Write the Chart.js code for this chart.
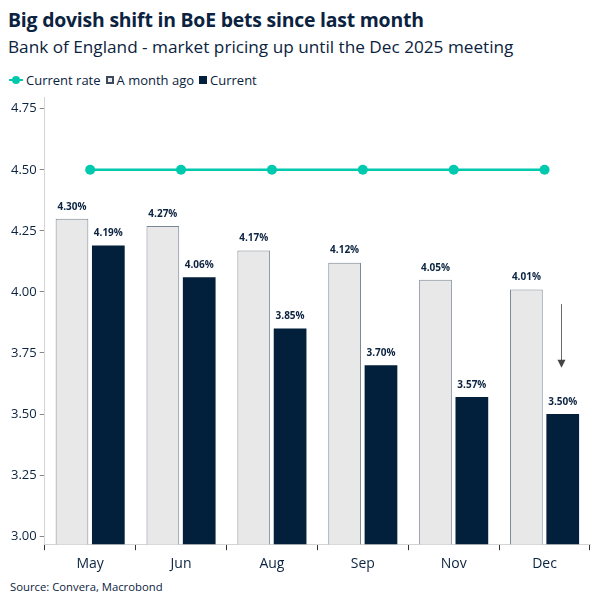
<!DOCTYPE html>
<html>
<head>
<meta charset="utf-8">
<script src="https://cdn.jsdelivr.net/npm/chart.js@4.4.1/dist/chart.umd.min.js"></script>
<style>
  body { margin: 0; background: #fff; font-family: "Open Sans", "Noto Sans", sans-serif; color: #0b2340; }
  #wrap { position: relative; width: 605px; height: 605px; overflow: hidden; }
  #title { position: absolute; left: 8px; top: 6px; font-size: 19.4px; font-weight: 700; letter-spacing: -0.2px; }
  #subtitle { position: absolute; left: 8px; top: 35px; font-size: 17.2px; }
  #legend { position: absolute; left: 9px; top: 71px; font-size: 13px; display: flex; align-items: center; }
  #legend .item { display: flex; align-items: center; margin-right: 5px; }
  .lineIcon { position: relative; width: 14px; height: 10px; margin-right: 3px; }
  .lineIcon:before { content: ""; position: absolute; left: 0; right: 0; top: 4px; height: 2px; background: #00c9ad; }
  .lineIcon:after { content: ""; position: absolute; left: 3px; top: 1px; width: 8px; height: 8px; border-radius: 50%; background: #00c9ad; }
  .box { width: 8px; height: 8px; margin-right: 3px; box-sizing: border-box; }
  #chartBox { position: absolute; left: 0; top: 87px; width: 605px; height: 490px; }
  #source { position: absolute; left: 10px; top: 579px; font-size: 11.3px; }
</style>
</head>
<body>
<div id="wrap">
  <div id="title">Big dovish shift in BoE bets since last month</div>
  <div id="subtitle">Bank of England - market pricing up until the Dec 2025 meeting</div>
  <div id="legend">
    <div class="item"><span class="lineIcon"></span>Current rate</div>
    <div class="item"><span class="box" style="background:#e8e8e8;border:2px solid #3c4a5c"></span>A month ago</div>
    <div class="item"><span class="box" style="background:#021f3b"></span>Current</div>
  </div>
  <div id="chartBox"><canvas id="chart"></canvas></div>
  <div id="source">Source: Convera, Macrobond</div>
</div>
<script>
// ===== DATA =====
const meetings = ["May", "Jun", "Aug", "Sep", "Nov", "Dec"];
const currentRate = [4.50, 4.50, 4.50, 4.50, 4.50, 4.50];
const monthAgo = [4.30, 4.27, 4.17, 4.12, 4.05, 4.01];
const current = [4.19, 4.06, 3.85, 3.70, 3.57, 3.50];
const yTicks = [3.00, 3.25, 3.50, 3.75, 4.00, 4.25, 4.50, 4.75];

const NAVY = "#0b2340";

// ===== BAR LABELS =====
const barLabels = {
  id: "barLabels",
  afterDatasetsDraw(chart) {
    const ctx = chart.ctx;
    ctx.save();
    ctx.font = "bold 10px 'Open Sans', sans-serif";
    ctx.fillStyle = NAVY;
    ctx.textAlign = "center";
    ctx.textBaseline = "bottom";
    [1, 2].forEach(di => {
      const meta = chart.getDatasetMeta(di);
      meta.data.forEach((bar, i) => {
        const v = chart.data.datasets[di].data[i];
        ctx.fillText(v.toFixed(2) + "%", bar.x, bar.y - 7);
      });
    });
    ctx.restore();
  }
};

// ===== ARROW (Dec) =====
const decArrow = {
  id: "decArrow",
  afterDatasetsDraw(chart) {
    const ctx = chart.ctx;
    const bar = chart.getDatasetMeta(2).data[5];
    const yS = chart.scales.y;
    const x = Math.round(bar.x - 2) + 0.5;
    const y1 = yS.getPixelForValue(3.95);
    const y2 = yS.getPixelForValue(3.69);
    ctx.save();
    ctx.strokeStyle = "#6b6b6b";
    ctx.lineWidth = 1;
    ctx.beginPath();
    ctx.moveTo(x, y1);
    ctx.lineTo(x, y2 - 7);
    ctx.stroke();
    ctx.fillStyle = "#444";
    ctx.beginPath();
    ctx.moveTo(x - 4, y2 - 8);
    ctx.lineTo(x + 4, y2 - 8);
    ctx.lineTo(x, y2);
    ctx.closePath();
    ctx.fill();
    ctx.restore();
  }
};

new Chart(document.getElementById("chart"), {
  type: "bar",
  data: {
    labels: meetings,
    datasets: [
      { type: "line", label: "Current rate", data: currentRate, borderColor: "#00c9ad", backgroundColor: "#00c9ad",
        borderWidth: 2.5, pointRadius: 5, pointHoverRadius: 5, pointBackgroundColor: "#00c9ad", pointBorderWidth: 0, order: 0 },
      { label: "A month ago", data: monthAgo, backgroundColor: "#e8e8e8", borderColor: "#7b8794", borderWidth: 1,
        categoryPercentage: 0.8, barPercentage: 0.9, order: 1 },
      { label: "Current", data: current, backgroundColor: "#021f3b", borderColor: "#021f3b", borderWidth: 0,
        categoryPercentage: 0.8, barPercentage: 0.9, order: 1 }
    ]
  },
  options: {
    responsive: true,
    maintainAspectRatio: false,
    animation: false,
    layout: { padding: { left: 8, right: 15, top: 4, bottom: 0 } },
    plugins: { legend: { display: false }, tooltip: { enabled: false } },
    scales: {
      x: {
        offset: true,
        grid: { display: true, offset: true, drawOnChartArea: false, drawTicks: true, tickLength: 6, color: "#333" },
        border: { display: true, color: "#d4d4d4", width: 1 },
        ticks: { color: NAVY, font: { size: 14, family: "'Open Sans', sans-serif" }, padding: 5 }
      },
      y: {
        min: 2.967,
        max: 4.795,
        afterBuildTicks(axis) { axis.ticks = yTicks.map(v => ({ value: v })); },
        grid: { display: true, drawOnChartArea: false, drawTicks: true, tickLength: 5, color: "#888" },
        border: { display: true, color: "#d4d4d4", width: 1 },
        ticks: { color: NAVY, font: { size: 13, family: "'Open Sans', sans-serif" }, padding: 3,
          callback: v => Number(v).toFixed(2) }
      }
    }
  },
  plugins: [barLabels, decArrow]
});
</script>
</body>
</html>
